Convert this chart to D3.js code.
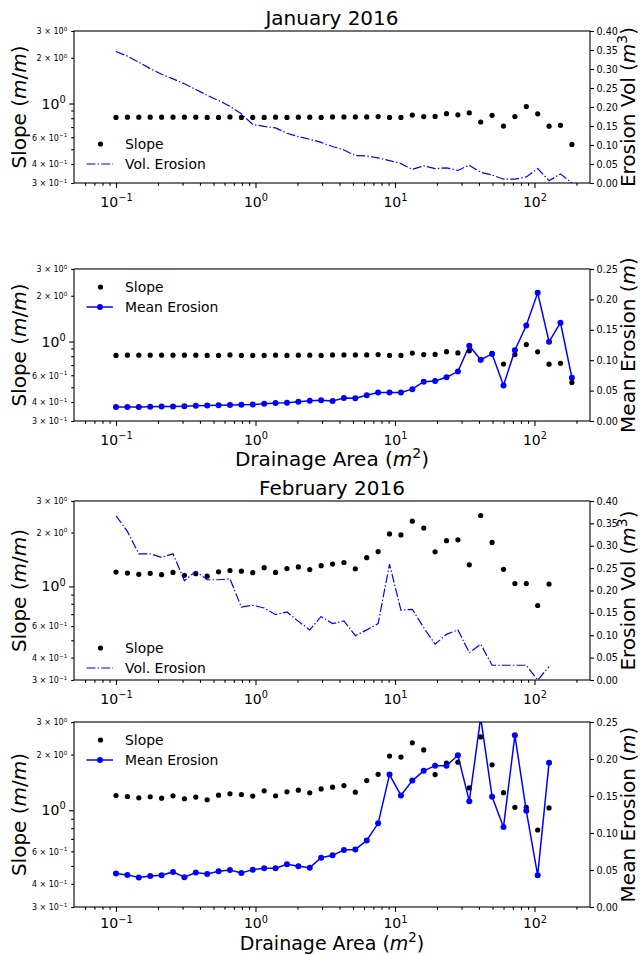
<!DOCTYPE html>
<html><head><meta charset="utf-8">
<script src="https://cdn.jsdelivr.net/npm/d3@7"></script>
<style>
body{margin:0;background:#fff}
text{font-family:"DejaVu Sans",sans-serif;fill:#000}
</style>
</head><body>
<svg id="c" width="640" height="955" xmlns="http://www.w3.org/2000/svg"></svg>
<script>
// ---------- data ----------
const area = [0.1, 0.1207, 0.1457, 0.1759, 0.2123, 0.2562, 0.3093, 0.3733, 0.4505, 0.5437,
  0.6561, 0.792, 0.9559, 1.154, 1.393, 1.681, 2.029, 2.449, 2.955, 3.567,
  4.305, 5.196, 6.272, 7.57, 9.137, 11.03, 13.31, 16.07, 19.39, 23.4,
  28.25, 34.09, 41.15, 49.67, 59.95, 72.36, 87.34, 105.4, 127.2, 153.6, 185.4];

const janSlope = [0.81, 0.813, 0.813, 0.813, 0.813, 0.813, 0.813, 0.813, 0.81, 0.81,
  0.816, 0.81, 0.81, 0.81, 0.813, 0.81, 0.813, 0.813, 0.81, 0.816,
  0.816, 0.816, 0.816, 0.82, 0.81, 0.81, 0.84, 0.82, 0.822, 0.857,
  0.842, 0.868, 0.756, 0.836, 0.711, 0.82, 0.955, 0.855, 0.709, 0.719, 0.538];

const janVol = [0.346, 0.334, 0.318, 0.301, 0.286, 0.274, 0.261, 0.246, 0.231, 0.217,
  0.202, 0.182, 0.154, 0.149, 0.145, 0.131, 0.122, 0.115, 0.107, 0.096,
  0.087, 0.072, 0.071, 0.066, 0.059, 0.051, 0.036, 0.045, 0.038, 0.040,
  0.033, 0.047, 0.028, 0.021, 0.010, 0.010, 0.016, 0.038, 0.006, 0.024, 0.000];

const janMean = [0.0230, 0.0230, 0.0230, 0.0235, 0.0240, 0.0240, 0.0244, 0.0249, 0.0254, 0.0258,
  0.0263, 0.0268, 0.0272, 0.0282, 0.0296, 0.0300, 0.0318, 0.0334, 0.0340, 0.0329,
  0.0379, 0.0373, 0.0423, 0.0468, 0.0468, 0.0468, 0.0524, 0.0646, 0.0657, 0.0719,
  0.0813, 0.1237, 0.1008, 0.1103, 0.0585, 0.1164, 0.157, 0.2108, 0.1303, 0.1618, 0.0713];

const febSlope = [1.202, 1.187, 1.168, 1.183, 1.163, 1.197, 1.154, 1.178, 1.140, 1.207,
  1.227, 1.217, 1.193, 1.273, 1.197, 1.258, 1.284, 1.242, 1.305, 1.333,
  1.360, 1.253, 1.447, 1.565, 1.963, 1.939, 2.315, 2.12, 1.56, 1.80,
  1.82, 1.32, 2.49, 1.76, 1.245, 1.037, 1.037, 0.782, 1.03];

const febVol = [0.367, 0.332, 0.282, 0.282, 0.274, 0.282, 0.222, 0.243, 0.224, 0.224,
  0.226, 0.163, 0.167, 0.161, 0.146, 0.152, 0.131, 0.112, 0.142, 0.126,
  0.132, 0.099, 0.112, 0.126, 0.259, 0.156, 0.158, 0.117, 0.080, 0.102,
  0.112, 0.061, 0.080, 0.033, 0.033, 0.033, 0.033, 0.000, 0.030];

const febMean = [0.0452, 0.0434, 0.0398, 0.0420, 0.0429, 0.0474, 0.0402, 0.0465, 0.0447, 0.0483,
  0.0501, 0.0461, 0.0505, 0.0523, 0.0523, 0.0577, 0.0550, 0.0532, 0.0666, 0.0698,
  0.0769, 0.0778, 0.0899, 0.1131, 0.1789, 0.1507, 0.1708, 0.184, 0.191, 0.191,
  0.205, 0.143, 0.256, 0.149, 0.108, 0.232, 0.130, 0.0428, 0.195];

const xMajor = [0.1, 1, 10, 100];
const xMajorLabels = [["10", "−1"], ["10", "0"], ["10", "1"], ["10", "2"]];
const xMinor = [0.06, 0.07, 0.08, 0.09, 0.2, 0.3, 0.4, 0.5, 0.6, 0.7, 0.8, 0.9,
  2, 3, 4, 5, 6, 7, 8, 9, 20, 30, 40, 50, 60, 70, 80, 90, 200];
const yMajor = [1];
const yMajorLabels = [["10", "0"]];
const yMinor = [0.3, 0.4, 0.5, 0.6, 0.7, 0.8, 0.9, 2, 3];
const yMinorLabeled = [0.3, 0.4, 0.6, 2, 3];
const yMinorLabels = [["3 × 10", "−1"], ["4 × 10", "−1"], ["6 × 10", "−1"], ["2 × 10", "0"], ["3 × 10", "0"]];
const volTicks = [0, 0.05, 0.10, 0.15, 0.20, 0.25, 0.30, 0.35, 0.40];
const meanTicks = [0, 0.05, 0.10, 0.15, 0.20, 0.25];

// ---------- layout ----------
const xL = 74, xR = 590;
const x = d3.scaleLog().domain([0.05, 250]).range([xL, xR]);
const svg = d3.select('#c');
const BLUE = '#0000ff';

const panels = [
  {top: 31, bottom: 183, slope: janSlope, ero: janVol, ticks: volTicks, emax: 0.4, kind: 'vol',
   leg: [144, 164], title: 'January 2016', titleY: 25, xlabelY: null, tdy: 1.05},
  {top: 269, bottom: 421, slope: janSlope, ero: janMean, ticks: meanTicks, emax: 0.25, kind: 'mean',
   leg: [287, 307], xlabelY: 466, xlabelSize: 20, tdy: 1.05},
  {top: 501, bottom: 680, slope: febSlope, ero: febVol, ticks: volTicks, emax: 0.4, kind: 'vol',
   leg: [648, 668], title: 'February 2016', titleY: 495, xlabelY: null, tdy: 1.05},
  {top: 722, bottom: 907, slope: febSlope, ero: febMean, ticks: meanTicks, emax: 0.25, kind: 'mean',
   leg: [740, 760], xlabelY: 950, xlabelSize: 19, tdy: 0.88}
];

function mathText(sel, parts, size) {
  // parts: [text, style] style: '', 'it', 'sup'
  let shifted = false;
  parts.forEach(([t, st]) => {
    const ts = sel.append('tspan').text(t);
    if (st === 'it') ts.attr('font-style', 'italic');
    if (st === 'sup') {
      ts.attr('font-size', (size * 0.7) + 'px').attr('dy', (-size * 0.42) + 'px');
      shifted = true;
    } else if (shifted) {
      ts.attr('dy', (size * 0.42) + 'px');
      shifted = false;
    }
  });
}

panels.forEach((p, pi) => {
  const y = d3.scaleLog().domain([0.3, 3]).range([p.bottom, p.top]);
  const y2 = d3.scaleLinear().domain([0, p.emax]).range([p.bottom, p.top]);
  const g = svg.append('g');

  const clipId = 'clip' + pi;
  svg.append('clipPath').attr('id', clipId).append('rect')
    .attr('x', xL).attr('y', p.top).attr('width', xR - xL).attr('height', p.bottom - p.top);

  // x axis
  const gx = g.append('g').attr('transform', `translate(0,${p.bottom})`);
  gx.append('g').call(d3.axisBottom(x).tickValues(xMinor).tickSize(2.8).tickSizeOuter(0).tickFormat(() => ''));
  const gxm = gx.append('g').call(d3.axisBottom(x).tickValues(xMajor).tickSize(4.9).tickPadding(4.2).tickSizeOuter(0).tickFormat(() => ''));
  gxm.selectAll('.tick text').attr('font-size', '14px').attr('font-family', 'DejaVu Sans').attr('dy', p.tdy + 'em')
    .each(function (d, i) { mathText(d3.select(this), [[xMajorLabels[i][0], ''], [xMajorLabels[i][1], 'sup']], 14); });

  // left axis
  const gy = g.append('g').attr('transform', `translate(${xL},0)`);
  const gyn = gy.append('g').call(d3.axisLeft(y).tickValues(yMinor).tickSize(2.8).tickPadding(4).tickSizeOuter(0).tickFormat(() => ''));
  gyn.selectAll('.tick text').attr('font-size', '8px').attr('font-family', 'DejaVu Sans').attr('dy', '0.35em')
    .each(function (d) {
      const k = yMinorLabeled.indexOf(d);
      if (k >= 0) mathText(d3.select(this), [[yMinorLabels[k][0], ''], [yMinorLabels[k][1], 'sup']], 8);
    });
  const gyj = gy.append('g').call(d3.axisLeft(y).tickValues(yMajor).tickSize(4.9).tickPadding(3.5).tickSizeOuter(0).tickFormat(() => ''));
  gyj.selectAll('.tick text').attr('font-size', '14px').attr('font-family', 'DejaVu Sans').attr('dy', '0.32em')
    .each(function (d, i) { mathText(d3.select(this), [[yMajorLabels[i][0], ''], [yMajorLabels[i][1], 'sup']], 14); });

  // right axis
  const gr = g.append('g').attr('transform', `translate(${xR},0)`)
    .call(d3.axisRight(y2).tickValues(p.ticks).tickSize(4).tickPadding(2.5).tickSizeOuter(0).tickFormat(d3.format('.2f')));
  gr.selectAll('.tick text').attr('font-size', '9.6px').attr('font-family', 'DejaVu Sans');

  g.selectAll('.domain').remove();
  g.selectAll('.tick line').attr('stroke', '#000').attr('stroke-width', 1.1);

  // data
  const dg = g.append('g').attr('clip-path', `url(#${clipId})`);
  dg.selectAll('circle.s').data(p.slope).join('circle').attr('class', 's')
    .attr('cx', (d, i) => x(area[i])).attr('cy', d => y(d)).attr('r', 2.6).attr('fill', '#000');

  const line = d3.line().x((d, i) => x(area[i])).y(d => y2(d));
  if (p.kind === 'vol') {
    dg.append('path').datum(p.ero).attr('d', line).attr('fill', 'none').attr('stroke', BLUE)
      .attr('stroke-width', 1.2).attr('stroke-dasharray', '8.9,2.2,1.4,2.2');
  } else {
    dg.append('path').datum(p.ero).attr('d', line).attr('fill', 'none').attr('stroke', BLUE)
      .attr('stroke-width', 1.5);
    dg.selectAll('circle.m').data(p.ero).join('circle').attr('class', 'm')
      .attr('cx', (d, i) => x(area[i])).attr('cy', d => y2(d)).attr('r', 3).attr('fill', BLUE);
  }

  // frame
  g.append('rect').attr('x', xL).attr('y', p.top).attr('width', xR - xL).attr('height', p.bottom - p.top)
    .attr('fill', 'none').attr('stroke', '#000').attr('stroke-width', 1.1);

  // legend
  const lg = g.append('g').attr('font-size', '13.9px');
  lg.append('circle').attr('cx', 100.5).attr('cy', p.leg[0]).attr('r', 2.6).attr('fill', '#000');
  lg.append('text').attr('x', 125).attr('y', p.leg[0] + 5).text('Slope');
  if (p.kind === 'vol') {
    lg.append('line').attr('x1', 86.5).attr('x2', 113).attr('y1', p.leg[1]).attr('y2', p.leg[1])
      .attr('stroke', BLUE).attr('stroke-width', 1.2).attr('stroke-dasharray', '8.9,2.2,1.4,2.2');
    lg.append('text').attr('x', 125).attr('y', p.leg[1] + 5).text('Vol. Erosion');
  } else {
    lg.append('line').attr('x1', 86.5).attr('x2', 113).attr('y1', p.leg[1]).attr('y2', p.leg[1])
      .attr('stroke', BLUE).attr('stroke-width', 1.5);
    lg.append('circle').attr('cx', 100).attr('cy', p.leg[1]).attr('r', 3).attr('fill', BLUE);
    lg.append('text').attr('x', 125).attr('y', p.leg[1] + 5).text('Mean Erosion');
  }

  // axis labels
  const cy = (p.top + p.bottom) / 2;
  const yl = g.append('text').attr('font-size', '20px').attr('text-anchor', 'middle')
    .attr('transform', `translate(25.5,${cy}) rotate(-90)`);
  mathText(yl, [['Slope (', ''], ['m', 'it'], ['/', ''], ['m', 'it'], [')', '']], 20);

  const rl = g.append('text').attr('font-size', '20px').attr('text-anchor', 'middle')
    .attr('transform', `translate(635,${cy}) rotate(-90)`);
  if (p.kind === 'vol') mathText(rl, [['Erosion Vol (', ''], ['m', 'it'], ['3', 'sup'], [')', '']], 20);
  else mathText(rl, [['Mean Erosion (', ''], ['m', 'it'], [')', '']], 20);

  if (p.title) {
    g.append('text').attr('x', (xL + xR) / 2).attr('y', p.titleY).attr('text-anchor', 'middle')
      .attr('font-size', '20px').text(p.title);
  }
  if (p.xlabelY) {
    const xl = g.append('text').attr('x', (xL + xR) / 2).attr('y', p.xlabelY).attr('text-anchor', 'middle')
      .attr('font-size', p.xlabelSize + 'px');
    mathText(xl, [['Drainage Area (', ''], ['m', 'it'], ['2', 'sup'], [')', '']], p.xlabelSize);
  }
});
</script>
</body></html>
